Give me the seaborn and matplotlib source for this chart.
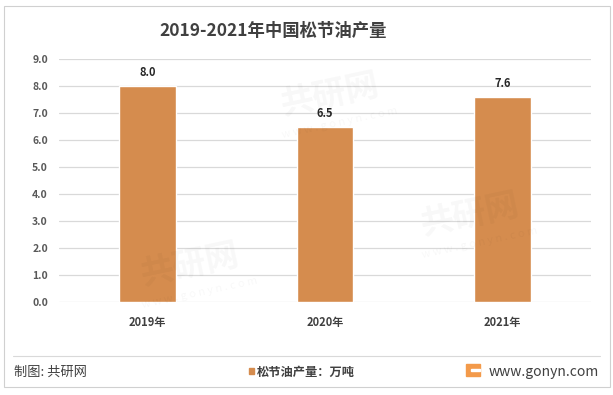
import matplotlib
matplotlib.use("Agg")
import matplotlib.pyplot as plt
import seaborn as sns
import pandas as pd
from matplotlib.patches import Rectangle
from matplotlib.lines import Line2D

# Dados
anos = ["2019年", "2020年", "2021年"]
producao = [8.0, 6.5, 7.6]
titulo = "2019-2021年中国松节油产量"
legenda = "松节油产量：万吨"
fonte = "制图: 共研网"
site = "www.gonyn.com"
yticks = [0, 1, 2, 3, 4, 5, 6, 7, 8, 9]

cor_barra = "#D58C4E"
W, H = 613, 395

sns.set_theme(style="white")
plt.rcParams['font.family'] = ['Noto Sans CJK SC', 'DejaVu Sans']

df = pd.DataFrame({"ano": anos, "valor": producao})

fig = plt.figure(figsize=(W / 100, H / 100), dpi=100)
# area do grafico: x 59..591, y 59..302 (pixels)
ax = fig.add_axes([59 / W, 1 - 302 / H, 532 / W, 243 / H])

sns.barplot(data=df, x="ano", y="valor", color=cor_barra, width=0.32,
            saturation=1, ax=ax, zorder=3)

ax.set_ylim(0, 9)
ax.set_xlim(-0.5, 2.5)
ax.set_yticks(yticks)
ax.set_yticklabels([f"{v:.1f}" for v in yticks], fontsize=7.5, color="#595959",
                   fontweight="bold")
ax.set_xticks(range(len(anos)))
ax.set_xticklabels(anos, fontsize=8, color="#404040", fontweight="bold")
ax.tick_params(axis="x", length=0, pad=10)
ax.tick_params(axis="y", length=0, pad=8)
ax.set_xlabel("")
ax.set_ylabel("")
ax.grid(axis="y", color="#d9d9d9", linewidth=0.9, zorder=0)
for s in ax.spines.values():
    s.set_visible(False)

for i, v in enumerate(producao):
    ax.text(i, v + 0.25, f"{v:.1f}", ha="center", va="bottom", fontsize=8,
            fontweight="bold", color="#262626")

# Titulo
fig.text(273 / W, 1 - 31 / H, titulo, ha="center", va="center", fontsize=12.5,
         fontweight="bold", color="#404040")

# marca d'agua (bem clara)
for (x, y) in [(330, 95), (470, 215), (190, 265)]:
    fig.text(x / W, 1 - y / H, "共研网", fontsize=24, fontweight="bold", color="#000000",
             alpha=0.03, rotation=12, ha="center", va="center")
    fig.text((x + 10) / W, 1 - (y + 28) / H, "w w w . g o n y n . c o m", fontsize=8,
             color="#000000", alpha=0.03, rotation=12, ha="center", va="center")

# Rodape
fig.add_artist(Line2D([13 / W, 600 / W], [1 - 356 / H, 1 - 356 / H],
                      color="#d9d9d9", linewidth=0.8, transform=fig.transFigure))
yr = 1 - 372 / H
fig.text(14 / W, yr, fonte, ha="left", va="center", fontsize=9.5, color="#404040")
fig.add_artist(Rectangle((249 / W, 1 - 374 / H), 5 / W, 6 / H,
                         color=cor_barra, transform=fig.transFigure))
fig.text(257 / W, yr, legenda, ha="left", va="center", fontsize=8.8,
         fontweight="bold", color="#404040")
fig.add_artist(Rectangle((466 / W, 1 - 376 / H), 14 / W, 12 / H,
                         color="#F39A4A", transform=fig.transFigure))
fig.add_artist(Rectangle((471 / W, 1 - 371 / H), 9 / W, 2 / H,
                         color="white", transform=fig.transFigure))
fig.text(599 / W, yr, site, ha="right", va="center", fontsize=10, color="#404040")

# Borda
fig.add_artist(Rectangle((4 / W, 1 - 387 / H), 606 / W, 381 / H, fill=False,
                         edgecolor="#d0d0d0", linewidth=0.8, transform=fig.transFigure))

fig.savefig("out.png", dpi=100)
